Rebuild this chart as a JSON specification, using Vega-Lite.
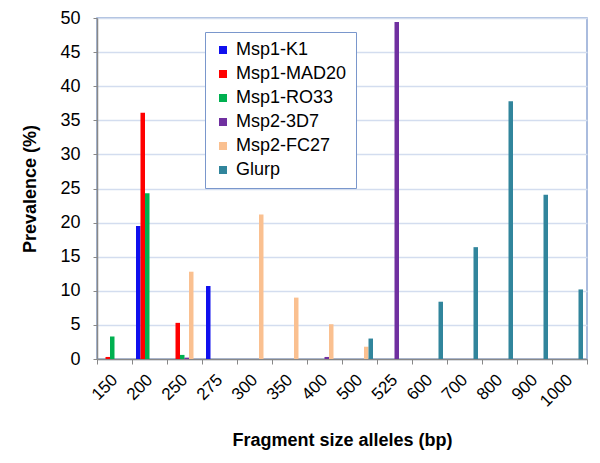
{
  "$schema": "https://vega.github.io/schema/vega-lite/v6.json",
  "autosize": {"type": "none"},
  "width": 490,
  "height": 341,
  "padding": {"left": 97, "top": 18, "right": 13, "bottom": 104},
  "background": "white",
  "config": {
    "font": "Liberation Sans",
    "view": {"stroke": "#8FA6D4", "strokeWidth": 1.5}
  },
  "data": {
    "values": [
      {"size": "150", "allele": "Msp1-MAD20", "prevalence": 0.3},
      {"size": "150", "allele": "Msp1-RO33", "prevalence": 3.3},
      {"size": "200", "allele": "Msp1-K1", "prevalence": 19.5},
      {"size": "200", "allele": "Msp1-MAD20", "prevalence": 36.1},
      {"size": "200", "allele": "Msp1-RO33", "prevalence": 24.3},
      {"size": "250", "allele": "Msp1-MAD20", "prevalence": 5.3},
      {"size": "250", "allele": "Msp1-RO33", "prevalence": 0.6},
      {"size": "250", "allele": "Msp2-3D7", "prevalence": 0.2},
      {"size": "250", "allele": "Msp2-FC27", "prevalence": 12.8},
      {"size": "275", "allele": "Msp1-K1", "prevalence": 10.7},
      {"size": "300", "allele": "Msp2-FC27", "prevalence": 21.2},
      {"size": "350", "allele": "Msp2-FC27", "prevalence": 9.0},
      {"size": "400", "allele": "Msp2-3D7", "prevalence": 0.3},
      {"size": "400", "allele": "Msp2-FC27", "prevalence": 5.1},
      {"size": "500", "allele": "Msp2-FC27", "prevalence": 1.8},
      {"size": "500", "allele": "Glurp", "prevalence": 3.0},
      {"size": "525", "allele": "Msp2-3D7", "prevalence": 49.4},
      {"size": "600", "allele": "Glurp", "prevalence": 8.4},
      {"size": "700", "allele": "Glurp", "prevalence": 16.4},
      {"size": "800", "allele": "Glurp", "prevalence": 37.8},
      {"size": "900", "allele": "Glurp", "prevalence": 24.1},
      {"size": "1000", "allele": "Glurp", "prevalence": 10.2}
    ]
  },
  "mark": {"type": "bar"},
  "encoding": {
    "x": {
      "field": "size",
      "type": "nominal",
      "scale": {
        "domain": ["150", "200", "250", "275", "300", "350", "400", "500", "525", "600", "700", "800", "900", "1000"],
        "paddingInner": 0,
        "paddingOuter": 0
      },
      "axis": {
        "title": "Fragment size alleles (bp)",
        "titleFontSize": 18,
        "titleFontWeight": "bold",
        "titleColor": "black",
        "titlePadding": 22,
        "labelAngle": -45,
        "labelAlign": "right",
        "labelBaseline": "middle",
        "labelFontSize": 17,
        "labelColor": "black",
        "labelPadding": 13,
        "labelOverlap": false,
        "tickBand": "extent",
        "tickSize": 5,
        "tickColor": "#888888",
        "domainColor": "#888888",
        "domainWidth": 1.5,
        "grid": false
      }
    },
    "xOffset": {
      "field": "allele",
      "type": "nominal",
      "scale": {
        "domain": ["Msp1-K1", "Msp1-MAD20", "Msp1-RO33", "Msp2-3D7", "Msp2-FC27", "Glurp"],
        "paddingInner": 0,
        "paddingOuter": 0.89
      }
    },
    "y": {
      "field": "prevalence",
      "type": "quantitative",
      "scale": {"domain": [0, 50], "nice": false},
      "axis": {
        "title": "Prevalence (%)",
        "titleFontSize": 18,
        "titleFontWeight": "bold",
        "titleColor": "black",
        "titlePadding": 20,
        "values": [0, 5, 10, 15, 20, 25, 30, 35, 40, 45, 50],
        "labelFontSize": 18,
        "labelColor": "black",
        "labelPadding": 13,
        "tickSize": 4,
        "tickColor": "#888888",
        "domainColor": "#888888",
        "domainWidth": 1.5,
        "gridColor": "#D3DDEF",
        "gridWidth": 1.5
      }
    },
    "color": {
      "field": "allele",
      "type": "nominal",
      "scale": {
        "domain": ["Msp1-K1", "Msp1-MAD20", "Msp1-RO33", "Msp2-3D7", "Msp2-FC27", "Glurp"],
        "range": ["#1010EE", "#FF0000", "#00B050", "#7030A0", "#FAC090", "#31859C"]
      },
      "legend": {
        "title": null,
        "orient": "none",
        "legendX": 108,
        "legendY": 14,
        "padding": 9,
        "rowPadding": 6,
        "strokeColor": "#7A97CC",
        "fillColor": "white",
        "symbolType": "square",
        "symbolSize": 64,
        "symbolStrokeWidth": 0,
        "labelFontSize": 18,
        "labelColor": "black",
        "labelOffset": 4,
        "labelLimit": 300
      }
    }
  }
}
